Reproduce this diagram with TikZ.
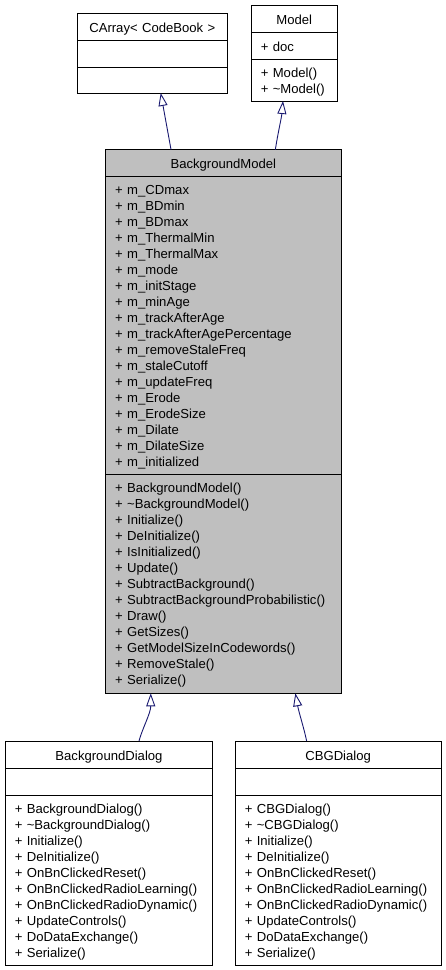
\documentclass[tikz,border=0pt]{standalone}
\usepackage{fontspec}
\setmainfont{Liberation Sans}
\usetikzlibrary{positioning}
\usetikzlibrary{arrows.meta}
\definecolor{edgeblue}{RGB}{25,25,112}
\definecolor{classgray}{RGB}{191,191,191}
\newcommand{\member}[1]{\rule[-3pt]{0pt}{16pt}+ #1}

\begin{document}
\begin{tikzpicture}[x=1pt,y=-1pt,>={Triangle[open,length=13pt,width=9pt]}]
\tikzstyle{compartment}=[rectangle,
  draw=black,fill=white,line width=0.9pt,
  outer sep=0pt,inner xsep=9.5pt,inner ysep=0pt,
  font=\fontsize{13.1}{16}\selectfont
]

\tikzstyle{heading}=[compartment,align=center,
  text height=13.8pt,text depth=2.2pt
]

\tikzstyle{members}=[compartment,align=left]

\tikzstyle{inherit}=[->,draw=edgeblue,line width=0.9pt]

\useasboundingbox (0,0) rectangle (445,970);

% base classes
\node[heading,text width=131pt,minimum height=27.2pt,anchor=north west] (caTitle) at (77.3,13.5) {CArray< CodeBook >};
\node[heading,text width=131pt,minimum height=26.6pt,below=0pt of caTitle] (caAttr) {};
\node[heading,text width=131pt,minimum height=25.7pt,below=0pt of caAttr] (caOps) {};

\node[heading,text width=67pt,minimum height=27.4pt,anchor=north west] (mdTitle) at (251.3,5.3) {Model};
\node[members,text width=67pt,minimum height=27pt,below=0pt of mdTitle] (mdAttr) {\member{doc}};
\node[members,text width=67pt,minimum height=41.3pt,below=0pt of mdAttr] (mdOps) {\member{Model()}\\
  \member{\textasciitilde Model()}};

% the model itself
\node[heading,fill=classgray,text width=216.3pt,minimum height=26.3pt,anchor=north west] (bmTitle) at (105.7,149.7) {BackgroundModel};
\node[members,fill=classgray,text width=216.3pt,minimum height=298.3pt,below=0pt of bmTitle] (bmAttr) {\member{m\_CDmax}\\
  \member{m\_BDmin}\\
  \member{m\_BDmax}\\
  \member{m\_ThermalMin}\\
  \member{m\_ThermalMax}\\
  \member{m\_mode}\\
  \member{m\_initStage}\\
  \member{m\_minAge}\\
  \member{m\_trackAfterAge}\\
  \member{m\_trackAfterAgePercentage}\\
  \member{m\_removeStaleFreq}\\
  \member{m\_staleCutoff}\\
  \member{m\_updateFreq}\\
  \member{m\_Erode}\\
  \member{m\_ErodeSize}\\
  \member{m\_Dilate}\\
  \member{m\_DilateSize}\\
  \member{m\_initialized}};
\node[members,fill=classgray,text width=216.3pt,minimum height=219pt,below=0pt of bmAttr] (bmOps) {\member{BackgroundModel()}\\
  \member{\textasciitilde BackgroundModel()}\\
  \member{Initialize()}\\
  \member{DeInitialize()}\\
  \member{IsInitialized()}\\
  \member{Update()}\\
  \member{SubtractBackground()}\\
  \member{SubtractBackgroundProbabilistic()}\\
  \member{Draw()}\\
  \member{GetSizes()}\\
  \member{GetModelSizeInCodewords()}\\
  \member{RemoveStale()}\\
  \member{Serialize()}};

% dialogs
\node[heading,text width=188.4pt,minimum height=27.3pt,anchor=north west] (bdTitle) at (5.3,741) {BackgroundDialog};
\node[heading,text width=188.4pt,minimum height=27.4pt,below=0pt of bdTitle] (bdAttr) {};
\node[members,text width=188.4pt,minimum height=170pt,below=0pt of bdAttr] (bdOps) {\member{BackgroundDialog()}\\
  \member{\textasciitilde BackgroundDialog()}\\
  \member{Initialize()}\\
  \member{DeInitialize()}\\
  \member{OnBnClickedReset()}\\
  \member{OnBnClickedRadioLearning()}\\
  \member{OnBnClickedRadioDynamic()}\\
  \member{UpdateControls()}\\
  \member{DoDataExchange()}\\
  \member{Serialize()}};

\node[heading,text width=186.7pt,minimum height=27.3pt,anchor=north west] (cbgTitle) at (235.3,741) {CBGDialog};
\node[heading,text width=186.7pt,minimum height=27.4pt,below=0pt of cbgTitle] (cbgAttr) {};
\node[members,text width=186.7pt,minimum height=170pt,below=0pt of cbgAttr] (cbgOps) {\member{CBGDialog()}\\
  \member{\textasciitilde CBGDialog()}\\
  \member{Initialize()}\\
  \member{DeInitialize()}\\
  \member{OnBnClickedReset()}\\
  \member{OnBnClickedRadioLearning()}\\
  \member{OnBnClickedRadioDynamic()}\\
  \member{UpdateControls()}\\
  \member{DoDataExchange()}\\
  \member{Serialize()}};

% inheritance
\draw[inherit] ([xshift=-52.3pt]bmTitle.north) -- ([xshift=8.4pt]caOps.south);
\draw[inherit] ([xshift=52pt]bmTitle.north) .. controls +(2.2,-15) and +(-1.5,17) .. ([xshift=-11.3pt]mdOps.south);
\draw[inherit] ([xshift=30pt]bdTitle.north) .. controls +(3.5,-13) and +(0,20) .. ([xshift=-72.6pt]bmOps.south);
\draw[inherit] ([xshift=-31.5pt]cbgTitle.north) .. controls +(-2.7,-13) and +(3.5,19) .. ([xshift=72pt]bmOps.south);
\end{tikzpicture}
\end{document}
